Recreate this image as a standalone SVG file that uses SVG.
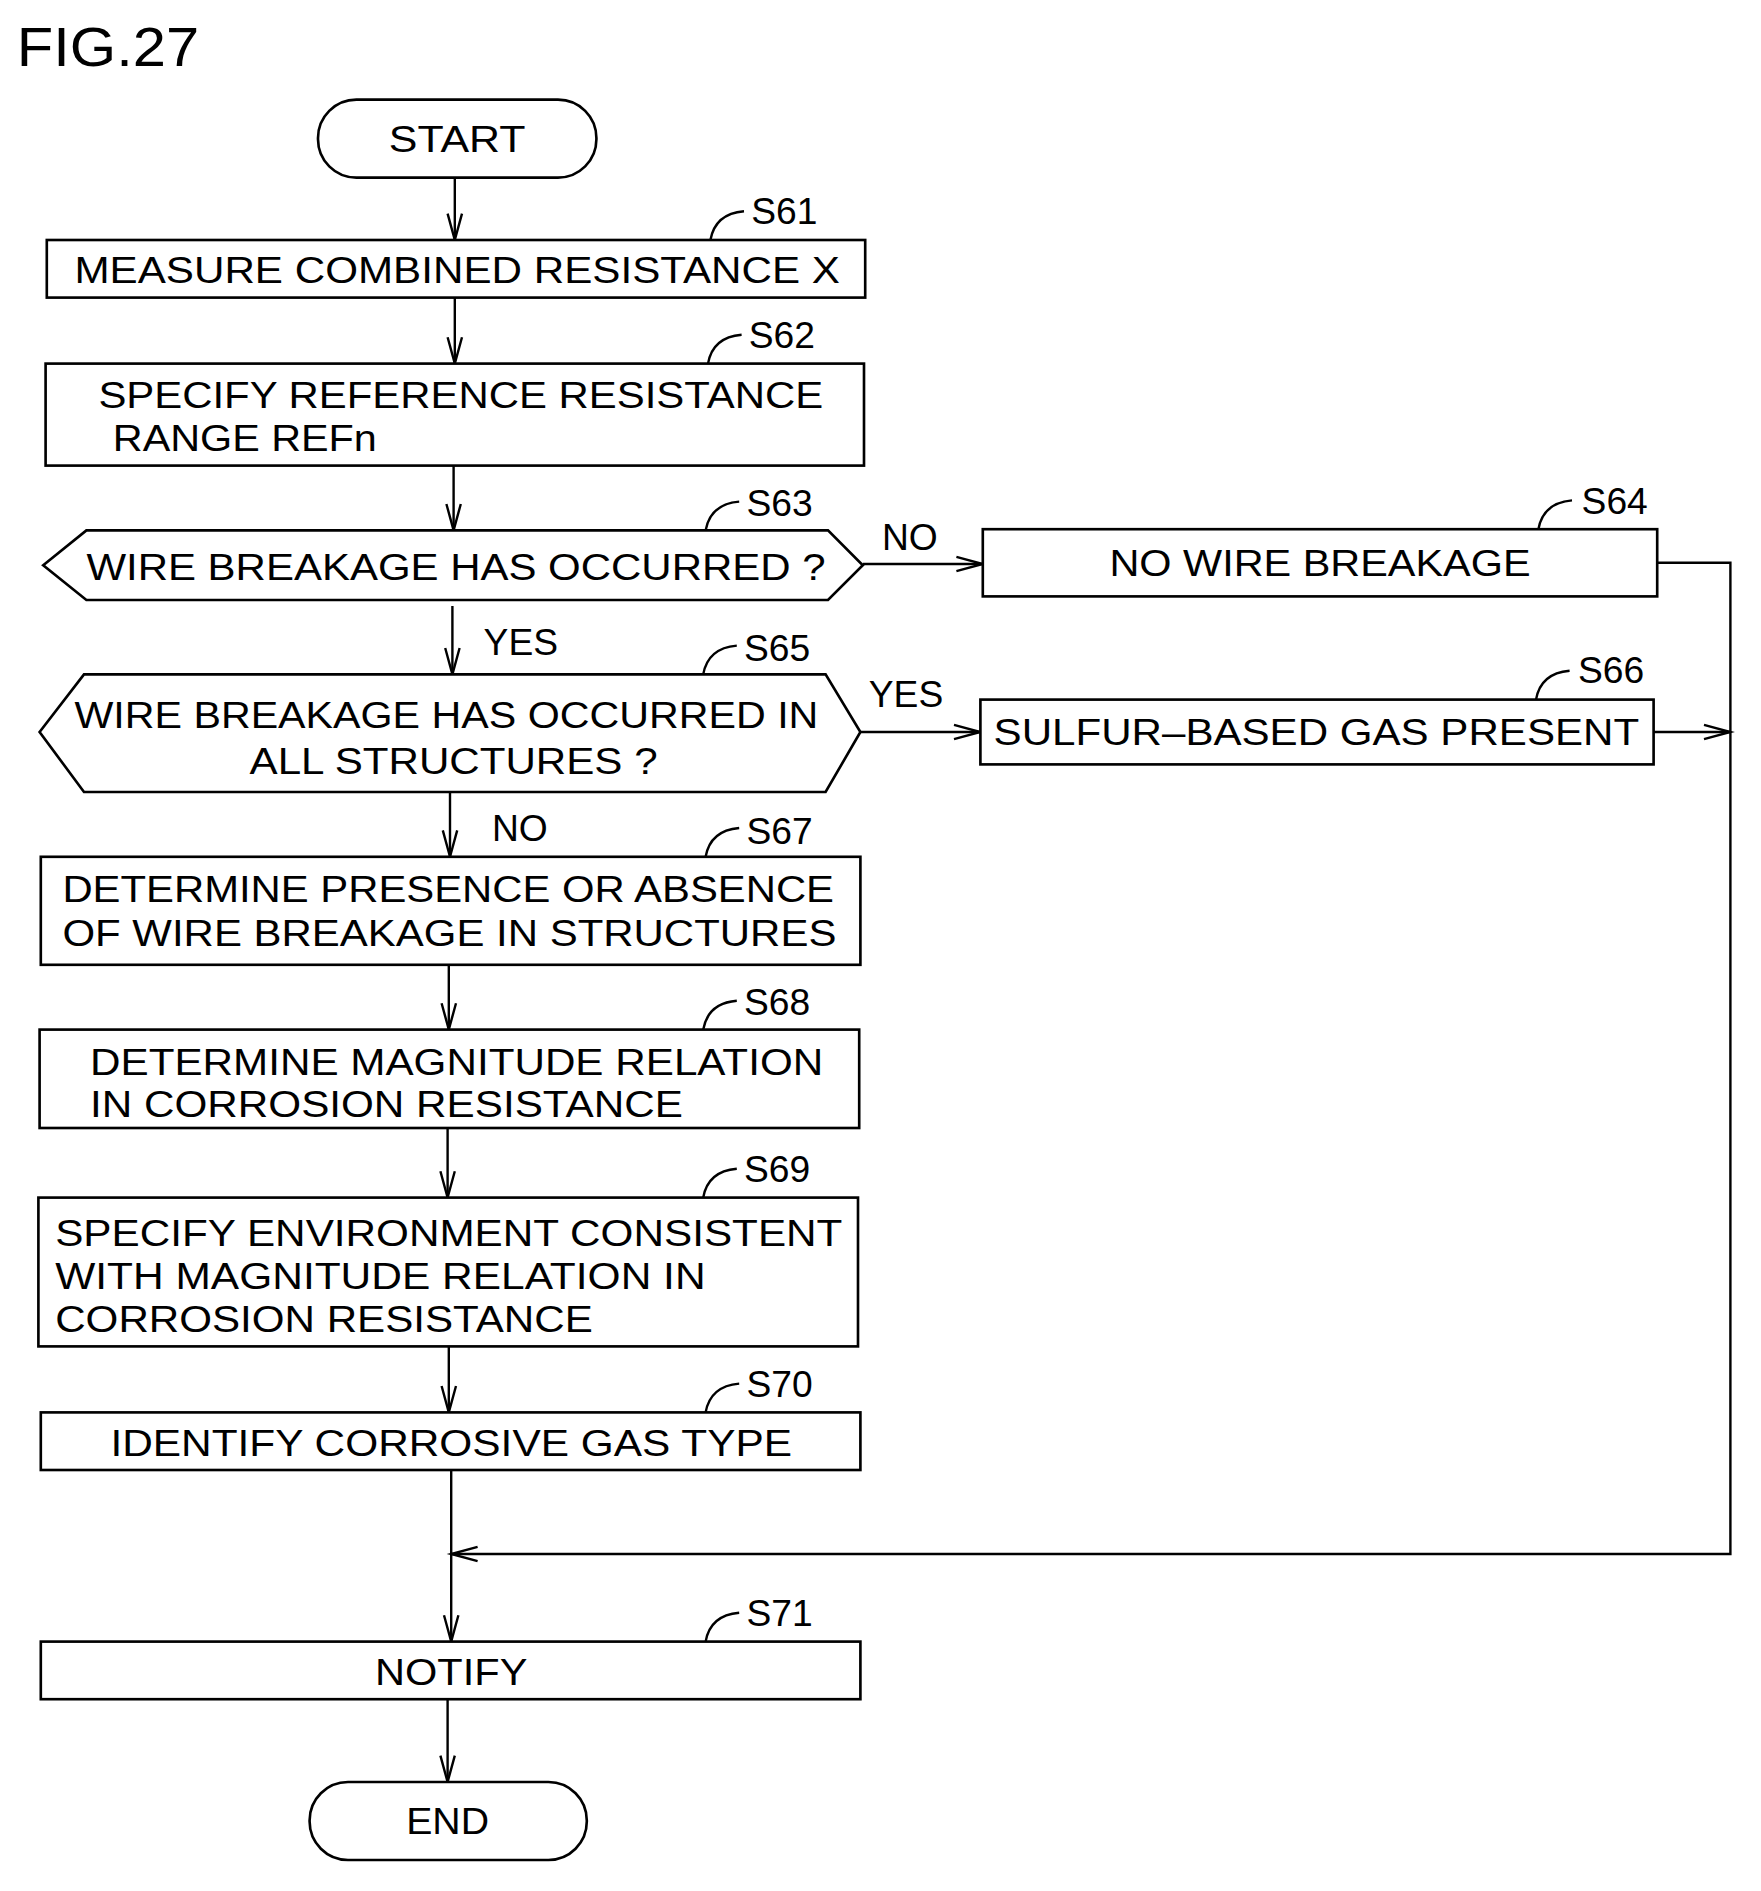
<svg xmlns="http://www.w3.org/2000/svg" width="1761" height="1891" viewBox="0 0 1761 1891">
<style>
.b{fill:#fff;stroke:#000;stroke-width:2.2}
.l{fill:none;stroke:#000;stroke-width:2}
.t{font-family:"Liberation Sans",Arial,sans-serif;font-size:31px;fill:#000}
.c{text-anchor:middle}
</style>
<defs>
<marker id="a" markerWidth="30" markerHeight="20" refX="26" refY="10" orient="auto" markerUnits="userSpaceOnUse" viewBox="0 0 30 20">
<path d="M4 4 L26 10 L4 16" fill="none" stroke="#000" stroke-width="2"/>
</marker>
</defs>
<rect width="1761" height="1891" fill="#fff"/>
<g transform="scale(1.2)">
<text class="t" x="14" y="55" style="font-size:46px" textLength="152" lengthAdjust="spacingAndGlyphs">FIG.27</text>
<g id="connectors">
<line class="l" x1="379" y1="148" x2="379" y2="200" marker-end="url(#a)"/>
<line class="l" x1="379" y1="248" x2="379" y2="303" marker-end="url(#a)"/>
<line class="l" x1="378" y1="388" x2="378" y2="442" marker-end="url(#a)"/>
<line class="l" x1="719" y1="470" x2="819" y2="470" marker-end="url(#a)"/>
<line class="l" x1="377" y1="505" x2="377" y2="562" marker-end="url(#a)"/>
<line class="l" x1="717" y1="610" x2="817" y2="610" marker-end="url(#a)"/>
<line class="l" x1="375" y1="660" x2="375" y2="714" marker-end="url(#a)"/>
<line class="l" x1="374" y1="804" x2="374" y2="858" marker-end="url(#a)"/>
<line class="l" x1="373" y1="940" x2="373" y2="998" marker-end="url(#a)"/>
<line class="l" x1="374" y1="1122" x2="374" y2="1177" marker-end="url(#a)"/>
<line class="l" x1="376" y1="1225" x2="376" y2="1368" marker-end="url(#a)"/>
<line class="l" x1="373" y1="1416" x2="373" y2="1485" marker-end="url(#a)"/>
<polyline class="l" points="1381,469 1442,469 1442,1295 376,1295" marker-end="url(#a)"/>
<line class="l" x1="1378" y1="610" x2="1442" y2="610" marker-end="url(#a)"/>
<text class="t" x="735" y="458">NO</text>
<text class="t" x="403" y="546">YES</text>
<text class="t" x="724" y="589">YES</text>
<text class="t" x="410" y="701">NO</text>
<path class="l" d="M592 200 Q596 178 620 176 M590 303 Q594 281 618 279 M588 442 Q592 420 616 418 M1282 441 Q1286 419 1310 417 M586 562 Q590 540 614 538 M1280 583 Q1284 561 1308 559 M588 714 Q592 692 616 690 M586 858 Q590 836 614 834 M586 998 Q590 976 614 974 M588 1177 Q592 1155 616 1153 M588 1368 Q592 1346 616 1344"/>
</g>
<g id="start"><rect class="b" x="265" y="83" width="232" height="65" rx="32"/><text class="t c" x="381" y="127" textLength="114" lengthAdjust="spacingAndGlyphs">START</text></g>
<g id="s61"><rect class="b" x="39" y="200" width="682" height="48"/><text class="t c" x="381" y="236" textLength="638" lengthAdjust="spacingAndGlyphs">MEASURE COMBINED RESISTANCE X</text><text class="t" x="626" y="187">S61</text></g>
<g id="s62"><rect class="b" x="38" y="303" width="682" height="85"/><text class="t" x="82" y="340" textLength="604" lengthAdjust="spacingAndGlyphs">SPECIFY REFERENCE RESISTANCE</text><text class="t" x="94" y="376" textLength="220" lengthAdjust="spacingAndGlyphs">RANGE REFn</text><text class="t" x="624" y="290">S62</text></g>
<g id="s63"><polygon class="b" points="36,471 72,442 690,442 719,471 690,500 72,500"/><text class="t" x="72" y="483" textLength="616" lengthAdjust="spacingAndGlyphs">WIRE BREAKAGE HAS OCCURRED ?</text><text class="t" x="622" y="430">S63</text></g>
<g id="s64"><rect class="b" x="819" y="441" width="562" height="56"/><text class="t c" x="1100" y="480" textLength="351" lengthAdjust="spacingAndGlyphs">NO WIRE BREAKAGE</text><text class="t" x="1318" y="428">S64</text></g>
<g id="s65"><polygon class="b" points="33,610 70,562 688,562 717,610 688,660 70,660"/><text class="t" x="62" y="607" textLength="620" lengthAdjust="spacingAndGlyphs">WIRE BREAKAGE HAS OCCURRED IN</text><text class="t" x="208" y="645" textLength="340" lengthAdjust="spacingAndGlyphs">ALL STRUCTURES ?</text><text class="t" x="620" y="551">S65</text></g>
<g id="s66"><rect class="b" x="817" y="583" width="561" height="54"/><text class="t" x="828" y="621" textLength="538" lengthAdjust="spacingAndGlyphs">SULFUR–BASED GAS PRESENT</text><text class="t" x="1315" y="569">S66</text></g>
<g id="s67"><rect class="b" x="34" y="714" width="683" height="90"/><text class="t" x="52" y="752" textLength="643" lengthAdjust="spacingAndGlyphs">DETERMINE PRESENCE OR ABSENCE</text><text class="t" x="52" y="788" textLength="645" lengthAdjust="spacingAndGlyphs">OF WIRE BREAKAGE IN STRUCTURES</text><text class="t" x="622" y="703">S67</text></g>
<g id="s68"><rect class="b" x="33" y="858" width="683" height="82"/><text class="t" x="75" y="896" textLength="611" lengthAdjust="spacingAndGlyphs">DETERMINE MAGNITUDE RELATION</text><text class="t" x="75" y="931" textLength="494" lengthAdjust="spacingAndGlyphs">IN CORROSION RESISTANCE</text><text class="t" x="620" y="846">S68</text></g>
<g id="s69"><rect class="b" x="32" y="998" width="683" height="124"/><text class="t" x="46" y="1038" textLength="656" lengthAdjust="spacingAndGlyphs">SPECIFY ENVIRONMENT CONSISTENT</text><text class="t" x="46" y="1074" textLength="542" lengthAdjust="spacingAndGlyphs">WITH MAGNITUDE RELATION IN</text><text class="t" x="46" y="1110" textLength="448" lengthAdjust="spacingAndGlyphs">CORROSION RESISTANCE</text><text class="t" x="620" y="985">S69</text></g>
<g id="s70"><rect class="b" x="34" y="1177" width="683" height="48"/><text class="t c" x="376" y="1213" textLength="568" lengthAdjust="spacingAndGlyphs">IDENTIFY CORROSIVE GAS TYPE</text><text class="t" x="622" y="1164">S70</text></g>
<g id="s71"><rect class="b" x="34" y="1368" width="683" height="48"/><text class="t c" x="376" y="1404" textLength="127" lengthAdjust="spacingAndGlyphs">NOTIFY</text><text class="t" x="622" y="1355">S71</text></g>
<g id="end"><rect class="b" x="258" y="1485" width="231" height="65" rx="32"/><text class="t c" x="373" y="1528" textLength="69" lengthAdjust="spacingAndGlyphs">END</text></g>
</g>
</svg>
